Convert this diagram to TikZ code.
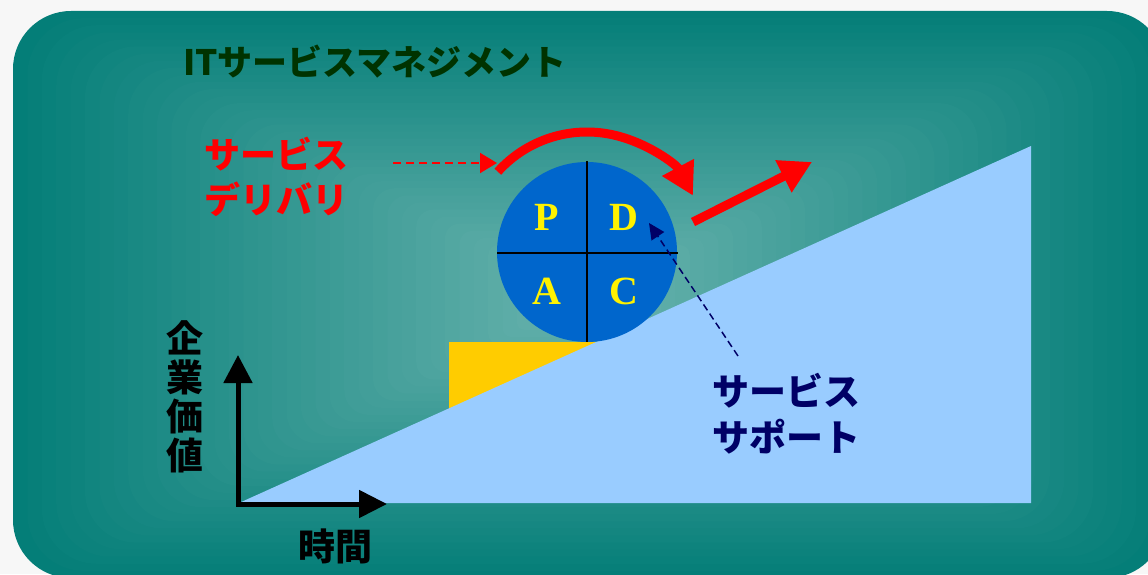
\documentclass[tikz,border=0pt]{standalone}
\usepackage{fontspec}
\newfontfamily\cjk{Noto Sans CJK JP}
\newfontfamily\serifb{Liberation Serif}
\usetikzlibrary{arrows.meta}
\definecolor{pagebg}{RGB}{247,247,247}
\definecolor{bgout}{RGB}{4,126,120}
\definecolor{bgin}{RGB}{108,180,175}
\definecolor{titlegreen}{RGB}{0,51,0}
\definecolor{pdcablue}{RGB}{0,102,204}
\definecolor{skyblue}{RGB}{153,204,255}
\definecolor{gold}{RGB}{255,204,0}
\definecolor{navy}{RGB}{0,0,102}
\definecolor{pdred}{RGB}{255,0,0}
\tikzset{
  jp/.style={font=\cjk\bfseries\fontsize{#1}{#1}\selectfont, inner sep=0pt, align=center},
  letter/.style={font=\serifb\bfseries\fontsize{40}{40}\selectfont, text=yellow, inner sep=0pt},
  redarrow/.style={draw=pdred, line width=9pt, -{Triangle[length=32pt,width=34pt]}},
  axisline/.style={draw=black, line width=5pt, {Triangle[length=28pt,width=28pt]}-{Triangle[length=28pt,width=27pt]}},
}
\begin{document}
\begin{tikzpicture}[x=1pt,y=1pt]
\useasboundingbox (0,0) rectangle (1148,574);
\fill[pagebg] (0,0) rectangle (1148,574);
\begin{scope}
\clip (0,0) rectangle (1148,574);
\foreach \i in {40,39,...,1}{
  \pgfmathsetmacro\bgt{\i/40}
  \pgfmathsetmacro\bgp{100*(1-\bgt)}
  \pgfmathsetmacro\bghw{576*\bgt}
  \pgfmathsetmacro\bghh{283.5*\bgt}
  \pgfmathsetmacro\bgr{max(58*\bgt,1)}
  \fill[bgin!\bgp!bgout, rounded corners=\bgr pt] (589-\bghw,279.5-\bghh) rectangle (589+\bghw,279.5+\bghh);
}
\end{scope}

% title
\node[jp=35, text=titlegreen] (title) at (375,512) {ITサービスマネジメント};

% value triangle and gold block
\fill[gold] (449,166) rectangle (596,232);
\fill[skyblue] (239,71) -- (1031,71) -- (1031,428) -- cycle;

% axes
\coordinate (ytip) at (238,219);
\coordinate (origin) at (238,70);
\coordinate (xtip) at (387,70);
\draw[axisline] (ytip) -- (origin) -- (xtip);
\node[jp=37, text=black, align=center] (yl) at (185,177) {企\\[2pt]業\\[2pt]価\\[2pt]値};
\node[jp=37, text=black] (xl) at (335,28) {時間};

% PDCA circle
\node[circle, fill=pdcablue, minimum size=180pt, inner sep=0pt] (pdca) at (587,322) {};
\draw[black, line width=1.5pt] (587,413) -- (587,232);
\draw[black, line width=1.5pt] (497,321) -- (678,321);
\node[letter] (P) at (547,357) {P};
\node[letter] (D) at (624,357) {D};
\node[letter] (A) at (547,283) {A};
\node[letter] (C) at (624,283) {C};

% service delivery
\node[jp=36, text=pdred] (deliv) at (276,397) {サービス\\[9pt]デリバリ};
\coordinate (dstart) at (393,411);
\coordinate (dend) at (497,411);
\draw[draw=pdred, line width=2pt, dash pattern=on 8pt off 5pt, -{Triangle[length=17pt,width=20pt]}] (dstart) -- (dend);
\draw[redarrow] (pdca.center) ++(138:120) arc[start angle=138, end angle=28, radius=120];
\coordinate (gostart) at (693,352);
\coordinate (goend) at (812,412);
\draw[redarrow] (gostart) -- (goend);

% service support
\node[jp=37, text=navy] (supp) at (786,160) {サービス\\[9pt]サポート};
\coordinate (sstart) at (738,218);
\coordinate (send) at (649,351);
\draw[draw=navy, line width=1.5pt, dash pattern=on 7pt off 4pt, -{Triangle[length=16pt,width=15pt]}] (sstart) -- (send);
\end{tikzpicture}
\end{document}
